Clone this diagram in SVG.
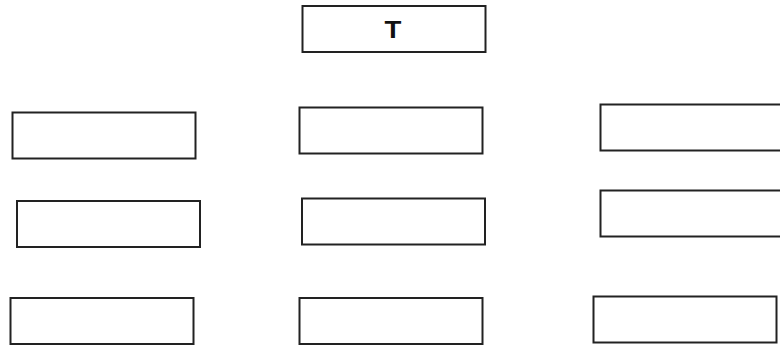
<svg xmlns="http://www.w3.org/2000/svg" width="780" height="347" viewBox="0 0 780 347">
<style>
.box{fill:#fff;stroke:#222;stroke-width:2}
.lbl{font-family:"Liberation Sans",Arial,sans-serif;font-weight:bold;fill:#111;text-anchor:middle}
</style>
<rect width="780" height="347" fill="#fff"/>
<g id="connectors"></g>
<g id="nT"><rect class="box" x="302.5" y="6" width="183" height="46"/><text class="lbl" font-size="24" transform="translate(393,37.5) scale(1.15,1)">T</text></g>
<g id="nL1"><rect class="box" x="12.5" y="112.5" width="183" height="46"/></g>
<g id="nL2"><rect class="box" x="17" y="201" width="183" height="46"/></g>
<g id="nL3"><rect class="box" x="10.5" y="298" width="183" height="46"/></g>
<g id="nM1"><rect class="box" x="299.5" y="107.5" width="183" height="46"/></g>
<g id="nM2"><rect class="box" x="302" y="198.5" width="183" height="46"/></g>
<g id="nM3"><rect class="box" x="299.5" y="298" width="183" height="46"/></g>
<g id="nR1"><rect class="box" x="600.5" y="104.5" width="183" height="46"/></g>
<g id="nR2"><rect class="box" x="600.5" y="190.5" width="183" height="46"/></g>
<g id="nR3"><rect class="box" x="593.5" y="296.5" width="183" height="46"/></g>
</svg>
